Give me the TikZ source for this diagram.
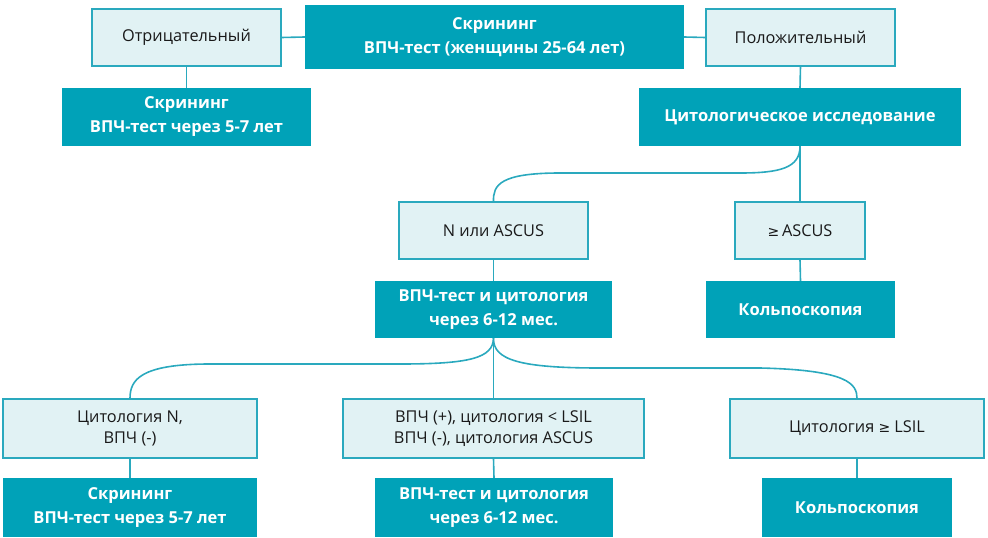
\documentclass[tikz,border=0pt]{standalone}
\usepackage{fontspec}
\setmainfont{Open Sans}
\newfontfamily\symfont{DejaVu Sans}
\definecolor{teal1}{HTML}{00A2B8}
\definecolor{light1}{HTML}{E1F2F4}
\definecolor{line1}{HTML}{2AA9BE}
\begin{document}
\begin{tikzpicture}[x=1pt,y=-1pt,
  lbox/.style={draw=line1,line width=1.3pt,fill=light1,inner sep=0pt,align=center,font=\fontsize{16.3}{21.5}\selectfont,text=black!90},
  dbox/.style={fill=teal1,inner sep=0pt,align=center,font=\fontsize{16.5}{24}\selectfont\bfseries,text=white},
  conn/.style={draw=line1,line width=1.6pt}]
\useasboundingbox (0,0) rectangle (988,538);
\node[lbox,minimum width=189pt,minimum height=57pt] (neg) at (186.5,37.5) {Отрицательный};
\node[dbox,minimum width=379pt,minimum height=64pt] (scr) at (494.5,37) {Скрининг\\ВПЧ-тест (женщины 25-64 лет)};
\node[lbox,minimum width=189pt,minimum height=57pt] (pos) at (800.5,37.5) {Положительный};
\node[dbox,minimum width=249pt,minimum height=58pt] (scr5) at (186.5,117) {Скрининг\\ВПЧ-тест через 5-7 лет};
\node[dbox,minimum width=322pt,minimum height=58pt] (cyto) at (800,117) {Цитологическое исследование};
\node[lbox,minimum width=189pt,minimum height=57pt] (nasc) at (493.5,230.5) {N или ASCUS};
\node[lbox,minimum width=130pt,minimum height=57pt] (geasc) at (800,230.5) {{\symfont\fontsize{14}{16}\selectfont ≥}\,ASCUS};
\node[dbox,minimum width=237pt,minimum height=57pt] (hpv1) at (493.5,309.5) {ВПЧ-тест и цитология\\через 6-12 мес.};
\node[dbox,minimum width=189pt,minimum height=57pt] (colp1) at (800.5,309.5) {Кольпоскопия};
\node[lbox,minimum width=254pt,minimum height=59pt] (cn) at (130,428.5) {Цитология N,\\ВПЧ (-)};
\node[lbox,minimum width=301pt,minimum height=59pt] (mid) at (493.5,428.5) {ВПЧ (+), цитология < LSIL\\ВПЧ (-), цитология ASCUS};
\node[lbox,minimum width=254pt,minimum height=59pt] (lsil) at (857,428.5) {Цитология {\symfont\fontsize{14}{16}\selectfont ≥} LSIL};
\node[dbox,minimum width=254pt,minimum height=59pt] (scr2) at (130,507.5) {Скрининг\\ВПЧ-тест через 5-7 лет};
\node[dbox,minimum width=238pt,minimum height=59pt] (hpv2) at (494,507.5) {ВПЧ-тест и цитология\\через 6-12 мес.};
\node[dbox,minimum width=190pt,minimum height=59pt] (colp2) at (857,507.5) {Кольпоскопия};
\draw[conn] (neg.east) -- (scr.west);
\draw[conn] (scr.east) -- (pos.west);
\draw[conn] (neg.south) -- (scr5.north);
\draw[conn] (pos.south) -- (cyto.north);
\draw[conn] (cyto.south) -- (geasc.north);
\draw[conn] (geasc.south) -- (colp1.north);
\draw[conn] (cyto.south) .. controls (800,168) and (780,173) .. (740,173) -- (560,173) .. controls (500,173) and (493,185) .. (nasc.north);
\draw[conn] (nasc.south) -- (hpv1.north);
\draw[conn] (hpv1.south) -- (mid.north);
\draw[conn] (hpv1.south) .. controls (493,358) and (470,364) .. (400,364) -- (210,364) .. controls (140,364) and (130,380) .. (cn.north);
\draw[conn] (hpv1.south) .. controls (493,360) and (520,368) .. (600,368) -- (760,368) .. controls (848,370) and (857,384) .. (lsil.north);
\draw[conn] (cn.south) -- (scr2.north);
\draw[conn] (mid.south) -- (hpv2.north);
\draw[conn] (lsil.south) -- (colp2.north);
\end{tikzpicture}
\end{document}
